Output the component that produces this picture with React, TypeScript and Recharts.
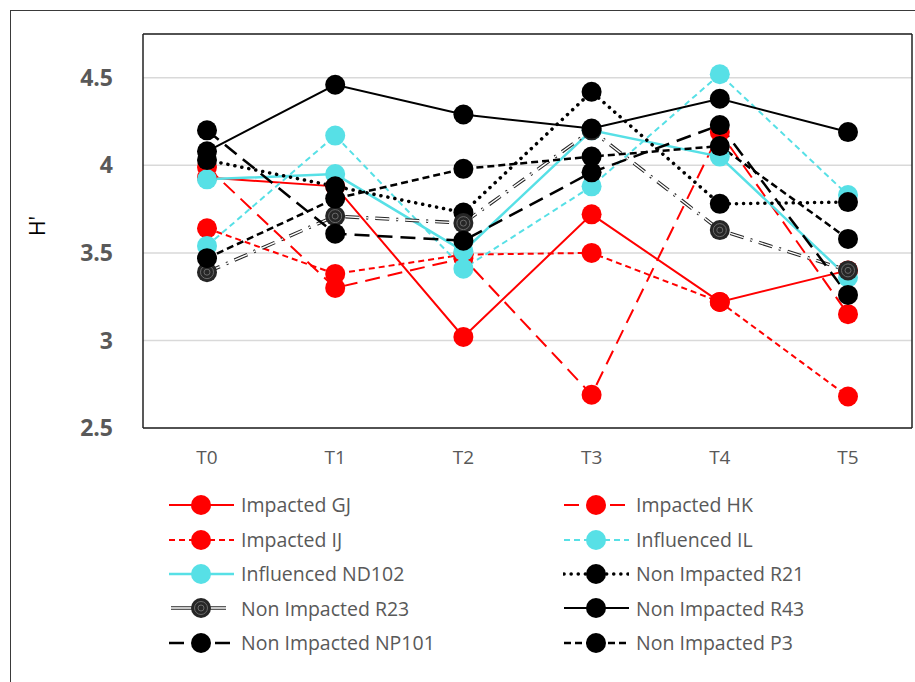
import React from 'react';
import { LineChart, Line, XAxis, YAxis, CartesianGrid } from 'recharts';

// sampling times
const categories = ['T0', 'T1', 'T2', 'T3', 'T4', 'T5'];

// H' per site
const impactedGJ = [3.93, 3.88, 3.02, 3.72, 3.22, 3.4];
const impactedHK = [3.99, 3.3, 3.47, 2.69, 4.19, 3.15];
const impactedIJ = [3.64, 3.38, 3.49, 3.5, 3.22, 2.68];
const influencedIL = [3.54, 4.17, 3.41, 3.88, 4.52, 3.83];
const influencedND102 = [3.92, 3.95, 3.51, 4.2, 4.05, 3.36];
const nonImpactedR21 = [4.03, 3.88, 3.73, 4.42, 3.78, 3.79];
const nonImpactedR23 = [3.39, 3.71, 3.67, 4.2, 3.63, 3.4];
const nonImpactedR43 = [4.08, 4.46, 4.29, 4.21, 4.38, 4.19];
const nonImpactedNP101 = [4.2, 3.61, 3.57, 3.96, 4.23, 3.26];
const nonImpactedP3 = [3.47, 3.81, 3.98, 4.05, 4.11, 3.58];

const yTicks = [2.5, 3, 3.5, 4, 4.5];

const RED = '#FF0000';
const CYAN = '#57E0E6';
const BLACK = '#000000';
const DARK = '#262626';
const TEXT = '#595959';
const FONT = '"Open Sans", sans-serif';

interface Series {
  key: string;
  name: string;
  values: number[];
  color: string;
  width: number;
  dash?: string;
  cap?: 'round' | 'butt';
  double?: boolean;
}

const series: Series[] = [
  { key: 'gj', name: 'Impacted GJ', values: impactedGJ, color: RED, width: 2 },
  { key: 'hk', name: 'Impacted HK', values: impactedHK, color: RED, width: 2, dash: '15 8' },
  { key: 'ij', name: 'Impacted IJ', values: impactedIJ, color: RED, width: 2, dash: '6 4' },
  { key: 'il', name: 'Influenced IL', values: influencedIL, color: CYAN, width: 2, dash: '6 4' },
  { key: 'nd', name: 'Influenced ND102', values: influencedND102, color: CYAN, width: 2.5 },
  { key: 'r21', name: 'Non Impacted R21', values: nonImpactedR21, color: BLACK, width: 3.5, dash: '0.1 7', cap: 'round' },
  { key: 'r23', name: 'Non Impacted R23', values: nonImpactedR23, color: DARK, width: 3.5, dash: '14 7 2 7', double: true },
  { key: 'r43', name: 'Non Impacted R43', values: nonImpactedR43, color: BLACK, width: 2 },
  { key: 'np', name: 'Non Impacted NP101', values: nonImpactedNP101, color: BLACK, width: 2.5, dash: '15 8' },
  { key: 'p3', name: 'Non Impacted P3', values: nonImpactedP3, color: BLACK, width: 2.5, dash: '7 4' },
];

const data = categories.map((t, i) => {
  const row: Record<string, string | number> = { t };
  series.forEach((s) => {
    row[s.key] = s.values[i];
  });
  return row;
});

const Marker = ({ cx, cy, s }: { cx: number; cy: number; s: Series }) => {
  if (s.double) {
    return (
      <g>
        <circle cx={cx} cy={cy} r={10} fill={DARK} />
        <circle cx={cx} cy={cy} r={6.5} fill="none" stroke="#6a6a6a" strokeWidth={1} />
        <circle cx={cx} cy={cy} r={3} fill="none" stroke="#6a6a6a" strokeWidth={1} />
      </g>
    );
  }
  return <circle cx={cx} cy={cy} r={10} fill={s.color} />;
};

const makeDot = (s: Series) => (p: any) => {
  const { cx, cy, index } = p;
  if (cx == null || cy == null) return <g key={`${s.key}-${index}`} />;
  return (
    <g key={`${s.key}-${index}`}>
      <Marker cx={cx} cy={cy} s={s} />
    </g>
  );
};

const LegendIcon = ({ s }: { s: Series }) => (
  <svg width={66} height={24} style={{ display: 'block', flex: 'none' }}>
    {s.double ? (
      <>
        <line x1={3} y1={12} x2={58} y2={12} stroke={DARK} strokeWidth={3.5} />
        <line x1={3} y1={12} x2={58} y2={12} stroke="#ffffff" strokeWidth={1.4} />
      </>
    ) : (
      <line
        x1={1}
        y1={12}
        x2={66}
        y2={12}
        stroke={s.color}
        strokeWidth={s.width}
        strokeDasharray={s.dash}
        strokeLinecap={s.cap}
      />
    )}
    <Marker cx={33} cy={12} s={s} />
  </svg>
);

// legend as a plain grid under the plot, two items per row
const ChartLegend = () => (
  <div
    style={{
      position: 'absolute',
      left: 168,
      top: 488,
      display: 'grid',
      gridTemplateColumns: '395px 320px',
      fontFamily: FONT,
      fontSize: 19.5,
      color: TEXT,
    }}
  >
    {series.map((s) => (
      <div key={s.key} style={{ display: 'flex', alignItems: 'center', height: 34.4 }}>
        <LegendIcon s={s} />
        <span style={{ marginLeft: 7, lineHeight: 1, whiteSpace: 'nowrap' }}>{s.name}</span>
      </div>
    ))}
  </div>
);

const YLabel = (props: any) => {
  const vb = props.viewBox || { x: 0, y: 34, width: 143, height: 394 };
  const cx = 37;
  const cy = vb.y + vb.height / 2 - 5;
  return (
    <text
      x={cx}
      y={cy}
      transform={`rotate(-90 ${cx} ${cy})`}
      textAnchor="middle"
      dominantBaseline="central"
      fill={BLACK}
      fontFamily={FONT}
      fontSize={21}
    >
      H'
    </text>
  );
};

const frame = { stroke: '#222', strokeWidth: 1.5 };

export default function App() {
  return (
    <div
      style={{
        position: 'absolute',
        left: 0,
        top: 0,
        width: 915,
        height: 682,
        overflow: 'hidden',
        background: '#ffffff',
      }}
    >
      <div
        style={{
          position: 'absolute',
          left: 10,
          top: 10,
          width: 1000,
          height: 1000,
          border: '1.5px solid #3a3a3a',
        }}
      />
      <div style={{ position: 'absolute', left: 0, top: 0 }}>
        <LineChart
          width={915}
          height={682}
          data={data}
          margin={{ top: 33, right: 2, left: 0, bottom: 214 }}
        >
          <CartesianGrid vertical={false} stroke="#d9d9d9" strokeWidth={1.5} />
          <XAxis
            dataKey="t"
            padding={{ left: 64, right: 64 }}
            height={40}
            tickLine={false}
            tickSize={0}
            tickMargin={23}
            axisLine={frame}
            tick={{ fill: TEXT, fontSize: 19, fontFamily: FONT }}
          />
          <XAxis
            xAxisId="top"
            dataKey="t"
            orientation="top"
            padding={{ left: 64, right: 64 }}
            height={1}
            tick={false}
            tickLine={false}
            axisLine={frame}
          />
          <YAxis
            domain={[2.5, 4.75]}
            ticks={yTicks}
            width={143}
            tickLine={false}
            tickSize={0}
            tickMargin={30}
            axisLine={frame}
            tick={{ fill: TEXT, fontSize: 23, fontWeight: 700, fontFamily: FONT }}
            label={<YLabel />}
          />
          <YAxis
            yAxisId="right"
            orientation="right"
            domain={[2.5, 4.75]}
            ticks={yTicks}
            width={1}
            tick={false}
            tickLine={false}
            axisLine={frame}
          />
          {series.map((s) =>
            s.double ? (
              <React.Fragment key={s.key}>
                <Line
                  dataKey={s.key}
                  name={s.name}
                  stroke={DARK}
                  strokeWidth={3.5}
                  strokeDasharray={s.dash}
                  dot={false}
                  activeDot={false}
                  isAnimationActive={false}
                />
                <Line
                  dataKey={s.key}
                  name={`${s.name} inner`}
                  legendType="none"
                  stroke="#ffffff"
                  strokeWidth={1.4}
                  strokeDasharray={s.dash}
                  dot={makeDot(s)}
                  activeDot={false}
                  isAnimationActive={false}
                />
              </React.Fragment>
            ) : (
              <Line
                key={s.key}
                dataKey={s.key}
                name={s.name}
                stroke={s.color}
                strokeWidth={s.width}
                strokeDasharray={s.dash}
                strokeLinecap={s.cap}
                dot={makeDot(s)}
                activeDot={false}
                isAnimationActive={false}
              />
            )
          )}
        </LineChart>
      </div>
      <ChartLegend />
    </div>
  );
}
